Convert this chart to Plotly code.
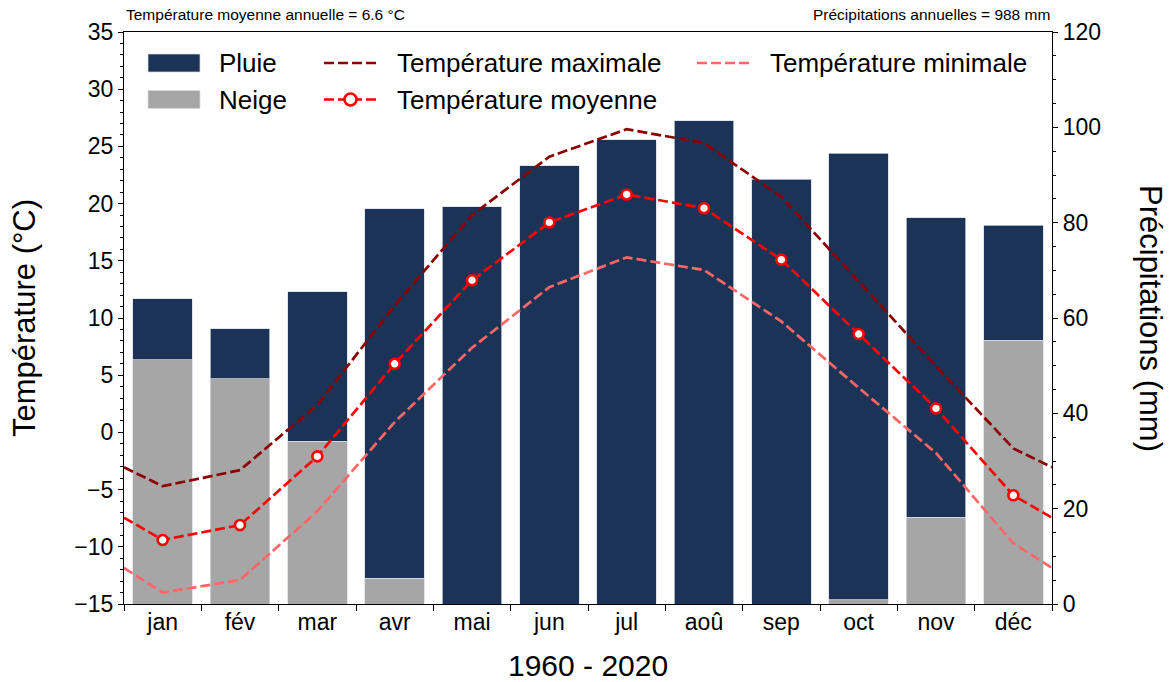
import plotly.graph_objects as go

# Monthly climate normals, 1960 - 2020
months = ["jan", "fév", "mar", "avr", "mai", "jun", "jul", "aoû", "sep", "oct", "nov", "déc"]
snow_mm = [51.2, 47.3, 34.1, 5.4, 0.0, 0.0, 0.0, 0.0, 0.0, 0.9, 18.2, 55.3]
rain_mm = [12.8, 10.4, 31.4, 77.5, 83.3, 91.9, 97.4, 101.4, 89.1, 93.7, 62.8, 24.2]
t_max = [-4.7, -3.3, 2.4, 11.1, 19.0, 24.1, 26.5, 25.3, 20.6, 13.2, 5.8, -1.4]
t_mean = [-9.4, -8.1, -2.1, 6.0, 13.3, 18.35, 20.8, 19.6, 15.1, 8.6, 2.1, -5.5]
t_min = [-14.0, -12.9, -6.9, 0.9, 7.4, 12.7, 15.3, 14.2, 9.7, 3.9, -1.8, -9.7]

NAVY = "#1b3357"
GREY = "#a6a6a6"
C_MAX = "#8b0000"
C_MEAN = "#ff0000"
C_MIN = "#ff6666"
FONT = "Liberation Sans, Arial, sans-serif"
DASH = "10px,4px"

W, H = 1174, 682
ML, MR, MT, MB = 124, 122, 32, 78
PW, PH = W - ML - MR, H - MT - MB

x_idx = list(range(len(months)))


def wrap(vals):
    """Close the annual cycle at the plot edges (Dec/Jan midpoint)."""
    edge = (vals[0] + vals[-1]) / 2
    return [-0.5] + x_idx + [len(vals) - 0.5], [edge] + list(vals) + [edge]


def px_x(p):
    return (p - ML) / PW


def px_y(p):
    return (H - MB - p) / PH


fig = go.Figure()

# Precipitation bars (right axis): snow at the bottom, rain stacked on top
bar_edge = dict(color="rgba(215,220,228,0.9)", width=0.8)
fig.add_trace(go.Bar(x=x_idx, y=snow_mm, width=0.77, marker=dict(color=GREY, line=bar_edge),
                     name="Neige", xaxis="x", yaxis="y"))
fig.add_trace(go.Bar(x=x_idx, y=rain_mm, width=0.77, marker=dict(color=NAVY, line=bar_edge),
                     name="Pluie", xaxis="x", yaxis="y"))

# Temperature curves (left axis)
for vals, col in ((t_max, C_MAX), (t_min, C_MIN), (t_mean, C_MEAN)):
    xs, ys = wrap(vals)
    fig.add_trace(go.Scatter(x=xs, y=ys, mode="lines", xaxis="x", yaxis="y2",
                             line=dict(color=col, width=2.7, dash=DASH), hoverinfo="skip"))
fig.add_trace(go.Scatter(x=x_idx, y=t_mean, mode="markers", xaxis="x", yaxis="y2",
                         marker=dict(size=10, color="white", line=dict(color=C_MEAN, width=2.6)),
                         name="Température moyenne"))

annual_precip = sum(rain_mm) + sum(snow_mm)
annual_temp = sum(t_mean) / len(t_mean)

tickfont = dict(family=FONT, size=23, color="black")

shapes = []
annotations = []

# Legend, laid out in three columns
row_y = [63, 99.5]


def legend_text(x, y, text):
    annotations.append(dict(x=px_x(x), y=px_y(y), xref="paper", yref="paper", text=text,
                            showarrow=False, xanchor="left", yanchor="middle",
                            font=dict(family=FONT, size=26, color="black")))


for (label, col), ry in zip((("Pluie", NAVY), ("Neige", GREY)), row_y):
    shapes.append(dict(type="rect", xref="paper", yref="paper",
                       x0=px_x(148), x1=px_x(200), y0=px_y(ry - 9), y1=px_y(ry + 9),
                       fillcolor=col, line=dict(color="rgba(215,220,228,0.9)", width=0.8)))
    legend_text(217, ry, label)

for (label, col, x0, x1, tx, ry, mk) in (
    ("Température maximale", C_MAX, 324, 377, 395, row_y[0], False),
    ("Température moyenne", C_MEAN, 324, 377, 395, row_y[1], True),
    ("Température minimale", C_MIN, 697, 750, 768, row_y[0], False),
):
    shapes.append(dict(type="line", xref="paper", yref="paper",
                       x0=px_x(x0), x1=px_x(x1), y0=px_y(ry), y1=px_y(ry),
                       line=dict(color=col, width=2.7, dash=DASH)))
    if mk:
        shapes.append(dict(type="circle", xref="paper", yref="paper",
                           xsizemode="pixel", ysizemode="pixel",
                           xanchor=px_x((x0 + x1) / 2), yanchor=px_y(ry),
                           x0=-6, x1=6, y0=-6, y1=6,
                           fillcolor="white", line=dict(color=C_MEAN, width=2.6)))
    legend_text(tx, ry, label)

# Header statistics
annotations.append(dict(x=0, y=px_y(15), xref="paper", yref="paper",
                        text=f"Température moyenne annuelle = {annual_temp:.1f} °C",
                        showarrow=False, xanchor="left", yanchor="middle",
                        font=dict(family=FONT, size=15.5, color="black")))
annotations.append(dict(x=1, y=px_y(15), xref="paper", yref="paper",
                        text=f"Précipitations annuelles = {annual_precip:.0f} mm",
                        showarrow=False, xanchor="right", yanchor="middle",
                        font=dict(family=FONT, size=15.5, color="black")))

# Axis titles
annotations.append(dict(x=px_x(24), y=0.5, xref="paper", yref="paper", text="Température (°C)",
                        textangle=-90, showarrow=False, xanchor="center", yanchor="middle",
                        font=dict(family=FONT, size=31, color="black")))
annotations.append(dict(x=px_x(1151), y=0.5, xref="paper", yref="paper", text="Précipitations (mm)",
                        textangle=90, showarrow=False, xanchor="center", yanchor="middle",
                        font=dict(family=FONT, size=31, color="black")))
annotations.append(dict(x=0.5, y=px_y(665), xref="paper", yref="paper", text="1960 - 2020",
                        showarrow=False, xanchor="center", yanchor="middle",
                        font=dict(family=FONT, size=30, color="black")))

fig.update_layout(
    width=W, height=H,
    margin=dict(l=ML, r=MR, t=MT, b=MB, pad=0),
    paper_bgcolor="white", plot_bgcolor="white",
    barmode="stack", bargap=0.23,
    showlegend=False,
    font=dict(family=FONT, color="black"),
    xaxis=dict(range=[-0.5, 11.5], tickmode="array", tickvals=x_idx, ticktext=months,
               ticks="", tickfont=tickfont, ticklabelstandoff=-3,
               showline=True, linecolor="black", linewidth=1.2, mirror=True,
               showgrid=False, zeroline=False,
               minor=dict(ticks="outside", tick0=-0.5, dtick=1, ticklen=6,
                          tickcolor="black", tickwidth=1.2)),
    yaxis=dict(side="right", range=[0, 120], tickmode="linear", tick0=0, dtick=20,
               ticks="outside", ticklen=5, tickwidth=1.2, tickcolor="black",
               tickfont=tickfont, showline=True, linecolor="black", linewidth=1.2,
               showgrid=False, zeroline=False,
               minor=dict(ticks="outside", dtick=5, ticklen=3, tickcolor="black", tickwidth=1)),
    yaxis2=dict(overlaying="y", side="left", range=[-15, 35], tickmode="linear", tick0=-15, dtick=5,
                ticks="outside", ticklen=5, tickwidth=1.2, tickcolor="black",
                tickfont=tickfont, showline=True, linecolor="black", linewidth=1.2,
                showgrid=False, zeroline=False,
                minor=dict(ticks="outside", dtick=1, ticklen=3, tickcolor="black", tickwidth=1)),
    shapes=shapes,
    annotations=annotations,
)

fig.write_html("out.html")
